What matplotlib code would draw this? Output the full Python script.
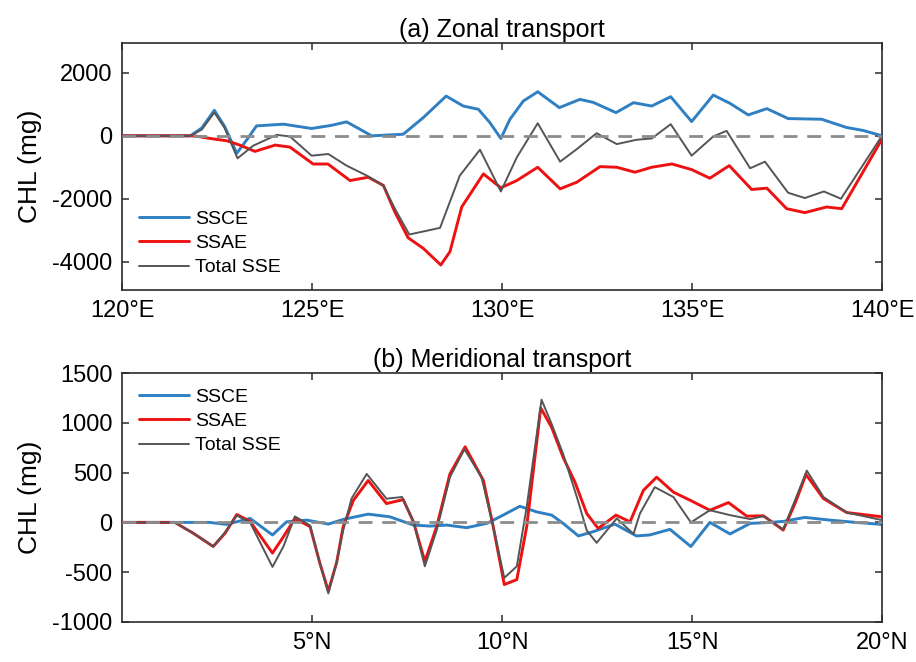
import matplotlib
matplotlib.use("Agg")
import matplotlib.pyplot as plt

plt.rcParams["font.family"] = ["Liberation Sans", "DejaVu Sans"]
plt.rcParams["axes.unicode_minus"] = False   # MATLAB-style hyphen minus

# ── (a) Zonal transport ──
zonal_lon_ssce = [120, 121.8, 122.1, 122.43, 122.7, 123.02, 123.3, 123.54, 124.25, 124.99,
                  125.5, 125.91, 126.2, 126.57, 127.4, 127.93, 128.53, 128.98, 129.38, 129.68,
                  129.97, 130.21, 130.56, 130.94, 131.51, 132.05, 132.4, 133.0, 133.46, 133.94,
                  134.44, 134.99, 135.56, 136.0, 136.48, 136.97, 137.53, 138.41, 139.07, 139.51, 140]
zonal_ssce = [0, 0, 250, 811, 300, -556, -100, 316, 370, 233,
              330, 443, 250, 0, 50, 580, 1263, 947, 843, 421,
              -84, 527, 1105, 1400, 896, 1158, 1063, 737, 1053, 947,
              1243, 453, 1295, 1032, 664, 864, 548, 527, 264, 169, 0]

zonal_lon_ssae = [120, 121.9, 122.32, 122.76, 123.1, 123.5, 124.03, 124.42, 125.03, 125.42,
                  126.0, 126.48, 126.88, 127.18, 127.53, 127.93, 128.39, 128.63, 128.94, 129.51,
                  129.97, 130.39, 130.94, 131.53, 131.97, 132.58, 133.02, 133.5, 133.94, 134.47,
                  134.99, 135.47, 135.98, 136.57, 136.97, 137.49, 137.97, 138.54, 138.94, 140]
zonal_ssae = [0, 0, -84, -158, -295, -495, -295, -358, -896, -896,
              -1421, -1316, -1579, -2420, -3241, -3578, -4105, -3683, -2262, -1210,
              -1652, -1421, -999, -1684, -1473, -979, -999, -1157, -999, -894,
              -1073, -1347, -947, -1705, -1663, -2315, -2441, -2262, -2315, -105]

zonal_lon_total = [120, 121.8, 122.1, 122.43, 122.7, 123.04, 123.45, 124.07, 124.42, 124.99,
                   125.43, 125.91, 126.44, 126.88, 127.18, 127.56, 128.37, 128.89, 129.42, 129.97,
                   130.39, 130.94, 131.53, 131.97, 132.49, 133.02, 133.54, 133.94, 134.44, 134.99,
                   135.56, 135.91, 136.53, 136.92, 137.53, 137.97, 138.47, 138.92, 140]
zonal_total = [0, 0, 200, 740, 250, -715, -316, 30, -20, -631,
               -578, -947, -1263, -1579, -2315, -3136, -2925, -1263, -442, -1768,
               -684, 400, -821, -421, 84, -263, -126, -84, 370, -631,
               -20, 158, -1031, -821, -1810, -1978, -1768, -2000, 0]

# ── (b) Meridional transport ──
merid_lat_ssce = [0, 2.3, 2.75, 3.37, 3.96, 4.33, 4.86, 5.43, 5.82, 6.48,
                  7.05, 7.67, 8.11, 8.55, 9.07, 9.6, 10.03, 10.47, 10.91, 11.31,
                  11.61, 12.01, 12.4, 12.97, 13.54, 13.89, 14.42, 14.97, 15.47, 16.0,
                  16.53, 17.05, 17.4, 17.97, 18.63, 19.3, 20]
merid_ssce = [0, 0, -20, 40, -126, 6, 23, -17, 30, 83,
              56, -27, -37, -27, -53, -10, 73, 162, 106, 73,
              -10, -136, -93, -17, -136, -126, -70, -242, 0, -116,
              -10, 0, 10, 50, 23, 0, -20]

merid_lat_ssae = [0, 1.39, 1.88, 2.4, 2.71, 3.02, 3.37, 3.96, 4.25, 4.55,
                  4.95, 5.2, 5.43, 5.65, 5.82, 6.09, 6.48, 6.96, 7.4, 7.67,
                  7.97, 8.28, 8.63, 9.03, 9.51, 9.77, 10.06, 10.39, 10.65, 11.02,
                  11.31, 11.61, 11.92, 12.23, 12.53, 13.0, 13.37, 13.72, 14.07, 14.51,
                  14.99, 15.47, 15.96, 16.44, 16.88, 17.4, 17.71, 18.0, 18.46, 19.07, 20]
merid_ssae = [0, 0, -110, -242, -110, 79, 10, -308, -143, 40,
              -43, -400, -690, -400, -43, 222, 421, 189, 229, 6,
              -392, -43, 487, 759, 421, -43, -624, -574, -43, 1149,
              951, 652, 404, 89, -60, 73, 6, 321, 454, 304,
              215, 122, 199, 63, 66, -77, 189, 481, 239, 99, 56]

merid_lat_total = [0, 1.39, 1.88, 2.4, 2.71, 3.02, 3.37, 3.96, 4.25, 4.55,
                   4.95, 5.2, 5.43, 5.65, 5.82, 6.04, 6.44, 6.96, 7.37, 7.67,
                   7.97, 8.28, 8.63, 9.01, 9.46, 9.77, 10.06, 10.39, 10.65, 11.04,
                   11.31, 11.61, 11.97, 12.23, 12.49, 13.02, 13.46, 13.63, 14.02, 14.51,
                   14.97, 15.47, 16.0, 16.53, 16.88, 17.4, 17.71, 18.02, 18.46, 19.07, 20]
merid_total = [0, 0, -110, -242, -100, 70, 0, -447, -240, 60,
               -30, -400, -713, -400, -80, 239, 487, 238, 255, 6,
               -441, -80, 454, 735, 454, -43, -557, -441, 156, 1232,
               985, 685, 255, -80, -205, 40, -116, 89, 354, 255,
               0, 122, 73, 33, 63, -70, 222, 520, 255, 99, 23]

zonal_ticks = [120, 125, 130, 135, 140]
zonal_ticklabels = ["120°E", "125°E", "130°E", "135°E", "140°E"]
merid_ticks = [5, 10, 15, 20]
merid_ticklabels = ["5°N", "10°N", "15°N", "20°N"]

C_SSCE = "#2f7fc3"
C_SSAE = "#ee1111"
C_TOT = "#555555"
C_ZERO = "#8c8c8c"
C_AX = "#2b2b2b"

fig = plt.figure(figsize=(9.16, 6.62), dpi=100)
ax_a = fig.add_axes([122 / 916, 1 - 290 / 662, 760 / 916, 247 / 662])
ax_b = fig.add_axes([122 / 916, 1 - 622 / 662, 760 / 916, 249 / 662])


def draw(ax, x1, y1, x2, y2, x3, y3, xlim):
    kw = dict(solid_joinstyle="round", solid_capstyle="round")
    ax.plot(x1, y1, color=C_SSCE, lw=2.1, label="SSCE", zorder=2, **kw)
    ax.plot(x2, y2, color=C_SSAE, lw=2.1, label="SSAE", zorder=3, **kw)
    ax.plot(x3, y3, color=C_TOT, lw=1.4, label="Total SSE", zorder=4, **kw)
    ax.plot(xlim, [0, 0], color=C_ZERO, lw=2.0, ls=(0, (5, 3.5)), zorder=5)
    ax.set_xlim(xlim)
    ax.tick_params(direction="in", top=True, right=True, length=5, width=1.1,
                   color=C_AX, labelsize=17, pad=7)
    for sp in ax.spines.values():
        sp.set_color(C_AX)
        sp.set_linewidth(1.2)
    ax.set_ylabel("CHL (mg)", fontsize=19)
    ax.yaxis.set_label_coords(-0.105, 0.5)


draw(ax_a, zonal_lon_ssce, zonal_ssce, zonal_lon_ssae, zonal_ssae,
     zonal_lon_total, zonal_total, [120, 140])
ax_a.set_ylim(-4900, 2950)
ax_a.set_yticks([-4000, -2000, 0, 2000])
ax_a.set_xticks(zonal_ticks)
ax_a.set_xticklabels(zonal_ticklabels)
ax_a.set_title("(a) Zonal transport", fontsize=18, pad=4)
ax_a.legend(loc="lower left", bbox_to_anchor=(0.022, 0.055), frameon=False,
            fontsize=14, handlelength=2.6, handletextpad=0.3, labelspacing=0.35,
            borderpad=0, borderaxespad=0)

draw(ax_b, merid_lat_ssce, merid_ssce, merid_lat_ssae, merid_ssae,
     merid_lat_total, merid_total, [0, 20])
ax_b.set_ylim(-1000, 1500)
ax_b.set_yticks([-1000, -500, 0, 500, 1000, 1500])
ax_b.set_xticks(merid_ticks)
ax_b.set_xticklabels(merid_ticklabels)
ax_b.set_title("(b) Meridional transport", fontsize=18, pad=4)
ax_b.legend(loc="upper left", bbox_to_anchor=(0.022, 0.94), frameon=False,
            fontsize=14, handlelength=2.6, handletextpad=0.3, labelspacing=0.35,
            borderpad=0, borderaxespad=0)

fig.savefig("out.png", dpi=100)
